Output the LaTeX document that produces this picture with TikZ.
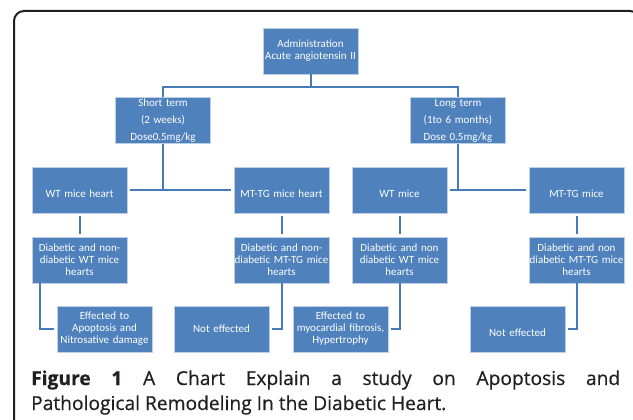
\documentclass[tikz,border=0pt]{standalone}
\usepackage{fontspec}
\newfontfamily\boxfont{Carlito}
\newfontfamily\capfont{Open Sans}[FakeBold=0.5]
\definecolor{boxblue}{RGB}{79,129,189}
\definecolor{boxedge}{RGB}{190,208,230}
\definecolor{linkblue}{RGB}{70,122,184}
\definecolor{framegray}{RGB}{35,31,32}
\definecolor{captext}{RGB}{35,31,32}
\begin{document}
\begin{tikzpicture}[x=1pt,y=-1pt,
  box/.style={draw=boxedge, line width=0.8pt, fill=boxblue, text=white,
    font=\boxfont\fontsize{11}{12}\selectfont, align=center,
    minimum width=95pt, minimum height=46pt, inner sep=0pt, text width=93pt},
  link/.style={draw=linkblue, line width=2pt},
  frameline/.style={draw=framegray, line width=2pt, rounded corners=10pt},
  captxt/.style={text=captext, inner sep=0pt, font=\capfont\fontsize{19.2}{26}\selectfont}]
\useasboundingbox (0,0) rectangle (633,420);
\fill[white] (0,0) rectangle (633,420);
\draw[frameline] (14,425) -- (14,11) -- (640,11) -- (640,60);

% row 0
\node[box] (admin) at (310.5,51) {Administration\\Acute angiotensin II};
% row 1
\node[box] (st) at (163,120.5) {Short term\\[5pt](2 weeks)\\[5pt]Dose0.5mg/kg};
\node[box] (lt) at (458,120.5) {Long term\\[5pt](1to 6 months)\\[5pt]Dose 0.5mg/kg};
% row 2
\node[box] (r2a) at (79.5,190) {{}\\[4pt]WT mice heart};
\node[box] (r2b) at (281.5,190) {{}\\[4pt]MT-TG mice heart};
\node[box] (r2c) at (399.5,190) {{}\\[4pt]WT mice};
\node[box] (r2d) at (576.5,190) {{}\\[4pt]MT-TG mice};
% row 3
\node[box] (r3a) at (79.5,260) {Diabetic and non-\\diabetic WT mice\\hearts};
\node[box, text width=0pt] (r3b) at (281.5,260) {\makebox[0pt]{Diabetic and non-}\\\makebox[0pt]{diabetic MT-TG mice}\\\makebox[0pt]{hearts}};
\node[box] (r3c) at (399.5,260) {Diabetic and non\\diabetic WT mice\\hearts};
\node[box, text width=0pt] (r3d) at (576.5,260) {\makebox[0pt]{Diabetic and non}\\\makebox[0pt]{diabetic MT-TG mice}\\\makebox[0pt]{hearts}};
% row 4
\node[box] (e1) at (104.5,329) {Effected to\\Apoptosis and\\Nitrosative damage};
\node[box] (n1) at (221.5,329) {Not effected};
\node[box] (e2) at (340.5,329) {Effected to\\myocardial fibrosis,\\Hypertrophy};
\node[box] (n2) at (517.5,329) {{}\\[4pt]Not effected};

% connectors
\coordinate (j0) at (310.5,87);
\draw[link] (admin.south) -- (j0);
\draw[link] (st.north) |- (j0) -| (lt.north);
\draw[link, shorten <=3pt, shorten >=3pt] (r2a.east) -- (r2b.west);
\draw[link, shorten <=3pt, shorten >=3pt] (r2c.east) -- (r2d.west);
\coordinate (j1) at (st.south |- r2a.east);
\coordinate (j2) at (lt.south |- r2c.east);
\draw[link] (st.south) -- (j1);
\draw[link] (lt.south) -- (j2);
\draw[link, shorten <=3pt, shorten >=3pt] (r2a.south) -- (r3a.north);
\draw[link, shorten <=3pt, shorten >=3pt] (r2b.south) -- (r3b.north);
\draw[link, shorten <=3pt, shorten >=3pt] (r2c.south) -- (r3c.north);
\draw[link, shorten <=3pt, shorten >=3pt] (r2d.south) -- (r3d.north);
\coordinate (k1) at ([xshift=8pt]r3a.south west);
\draw[link, shorten >=3pt] (k1) |- (e1.west);
\draw[link, shorten >=3pt] (r3b.south) |- (n1.east);
\draw[link, shorten >=3pt] (r3c.south) |- (e2.east);
\draw[link, shorten >=3pt] (r3d.south) |- (n2.east);

% caption
\node[captxt, anchor=base west] (cap1) at (31,385)
  {\makebox[589pt][s]{\bfseries Figure 1\mdseries{} A Chart Explain a study on Apoptosis and}};
\node[captxt, anchor=base west] (cap2) at (31,410)
  {Pathological Remodeling In the Diabetic Heart.};
\end{tikzpicture}
\end{document}
